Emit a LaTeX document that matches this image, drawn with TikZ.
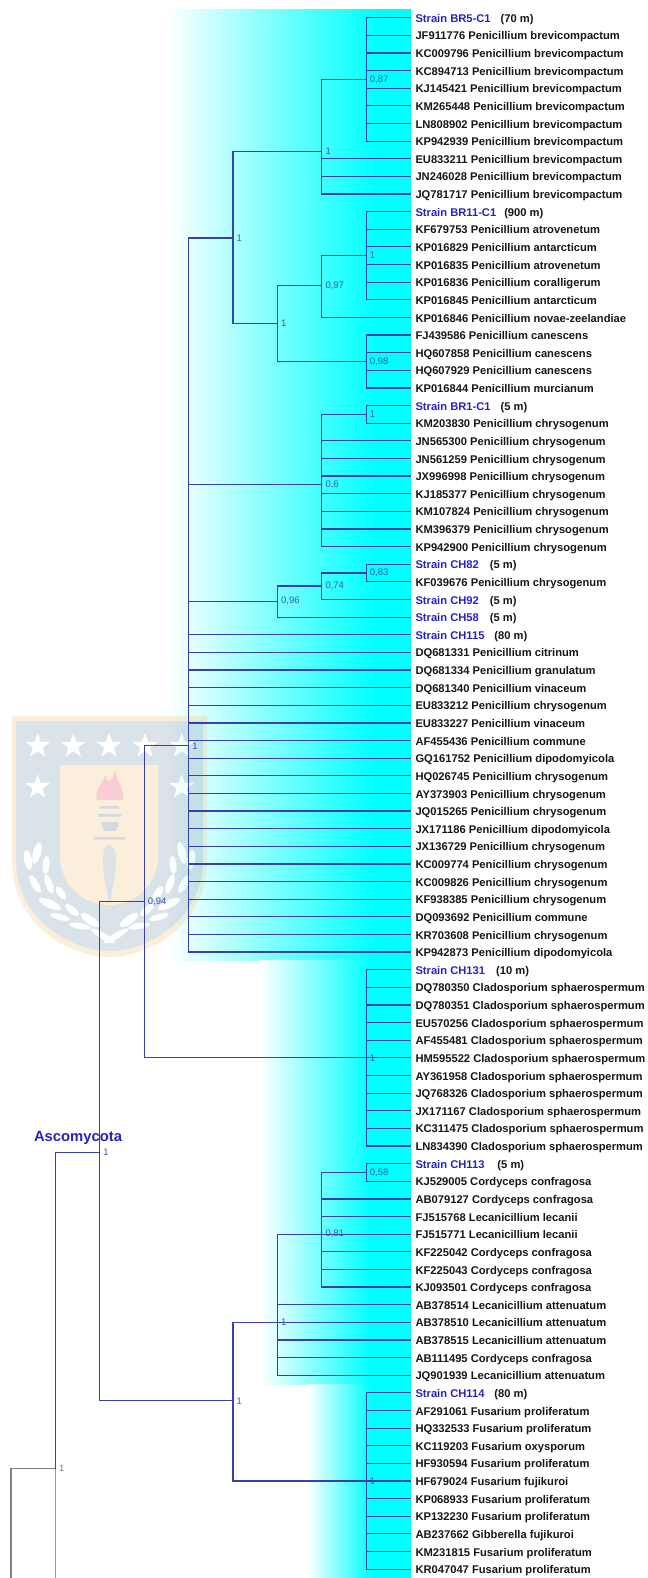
\documentclass[tikz,border=0pt]{standalone}
\usepackage{fontspec}
\setmainfont{Liberation Sans}
\usepackage{tikz}
\usetikzlibrary{shapes.geometric}
\definecolor{trblue}{HTML}{3A3FAE}
\definecolor{trsup}{HTML}{3A58B0}
\definecolor{trname}{HTML}{2A22C0}
\definecolor{trink}{HTML}{161616}
\definecolor{trgrey}{HTML}{808080}
\definecolor{trpink}{HTML}{E0709A}
\definecolor{trcyan}{HTML}{00FFFF}
\definecolor{crgrey}{HTML}{849EB9}
\definecolor{crgold}{HTML}{F2CA8A}
\definecolor{crflame}{HTML}{E8586F}
\definecolor{crtorch}{HTML}{6E8096}
\newcommand{\strainlab}[3]{\textcolor{trname}{#1}\hspace{#2}#3}
\tikzset{
  brn/.style={draw=trblue,line width=1.2pt,line join=miter},
  brngrey/.style={draw=trgrey,line width=1.2pt},
  brnpink/.style={draw=trpink,line width=1.2pt},
  leaf/.style={anchor=west,inner xsep=4.7pt,inner ysep=0pt,text height=11pt,text depth=1.8pt,
               font=\fontsize{11.18}{13}\selectfont\bfseries,text=trink},
  supv/.style={font=\fontsize{9.5}{11}\selectfont,text=trsup,inner sep=0pt,label distance=3.5pt},
  crstar/.style={star,star points=5,star point ratio=2.5,fill=white,minimum size=26pt,inner sep=0pt},
  lfw/.style={fill=white},
}
\begin{document}
\begin{tikzpicture}[x=44.4pt,y=-17.63pt]
  \useasboundingbox (-0.2477,-1.004) rectangle (14.347,88.503);
  % panels
  \shade[left color=white,right color=trcyan] (3.54,-0.49) rectangle (8.2,53.45);
  \fill[trcyan] (8.2,-0.49) rectangle (9,53.45);
  \shade[left color=white,right color=trcyan] (5.61,53.45) rectangle (8.1,77.5);
  \fill[trcyan] (8.1,53.45) rectangle (9,77.5);
  \shade[left color=white,right color=trcyan] (6.67,77.5) rectangle (8.1,88.503);
  \fill[trcyan] (8.1,77.5) rectangle (9,88.503);
  % crest, in picture pixels
  \begin{scope}[shift={(-0.2477,-1.004)},x=1pt,y=-1pt,transparency group,opacity=0.3]
    \fill[crgold] (12,716) -- (207,716) -- (207,860) .. controls (207,925) and (150,957) .. (109.5,957)
      .. controls (69,957) and (12,925) .. (12,860) -- cycle;
    \fill[crgrey] (16,721) -- (203,721) -- (203,860) .. controls (203,920) and (147,951) .. (109.5,951)
      .. controls (72,951) and (16,920) .. (16,860) -- cycle;
    \fill[crgold] (60,765) -- (158,765) -- (158,855) .. controls (158,885) and (135,905) .. (109,905)
      .. controls (83,905) and (60,885) .. (60,855) -- cycle;
    \node[crstar] (st1) at (37.7,746) {};
    \node[crstar] (st2) at (73.3,746) {};
    \node[crstar] (st3) at (109,746) {};
    \node[crstar] (st4) at (145,746) {};
    \node[crstar] (st5) at (181.7,746) {};
    \node[crstar] (st6) at (37.7,787) {};
    \node[crstar] (st7) at (181.7,787) {};
    \fill[crflame] (97,800) .. controls (94,790) and (102,785) .. (106,774) .. controls (106,784) and (110,784) .. (116,771)
      .. controls (115,780) and (124,785) .. (123,800) -- cycle;
    \fill[crtorch] (100,806) rectangle (119,808.5);
    \fill[crtorch] (98,814) rectangle (121,816.5);
    \fill[crtorch] (101,822) -- (119,822) -- (116,831) -- (104,831) -- cycle;
    \fill[crtorch] (94,837) rectangle (125,839.5);
    \fill[crgrey] (103,860) .. controls (103,850) and (106,845) .. (109.5,845) .. controls (113,845) and (116,850) .. (116,860)
      .. controls (116,875) and (112,890) .. (110,903) -- (109,903) .. controls (107,890) and (103,875) .. (103,860) -- cycle;
    \fill[lfw,rotate around={75:(37,853)}] (37,853) ellipse (11pt and 4pt);
    \fill[lfw,rotate around={100:(28,860)}] (28,860) ellipse (10pt and 4pt);
    \fill[lfw,rotate around={85:(46,865)}] (46,865) ellipse (9pt and 3.5pt);
    \fill[lfw,rotate around={-60:(35,884)}] (35,884) ellipse (10pt and 3.5pt);
    \fill[lfw,rotate around={-70:(49,884)}] (49,884) ellipse (10pt and 3.5pt);
    \fill[lfw,rotate around={-55:(61,893)}] (61,893) ellipse (7.5pt and 3.5pt);
    \fill[lfw,rotate around={-25:(50,904)}] (50,904) ellipse (12pt and 4pt);
    \fill[lfw,rotate around={-40:(72,910)}] (72,910) ellipse (8.5pt and 3.5pt);
    \fill[lfw,rotate around={-15:(60,917)}] (60,917) ellipse (10pt and 3pt);
    \fill[lfw,rotate around={-35:(90,920)}] (90,920) ellipse (11pt and 4pt);
    \fill[lfw,rotate around={-10:(80,926)}] (80,926) ellipse (11pt and 3pt);
    \fill[lfw,rotate around={-30:(103,936)}] (103,936) ellipse (14pt and 3pt);
    \fill[lfw,rotate around={105:(182,853)}] (182,853) ellipse (11pt and 4pt);
    \fill[lfw,rotate around={80:(191,860)}] (191,860) ellipse (10pt and 4pt);
    \fill[lfw,rotate around={95:(173,865)}] (173,865) ellipse (9pt and 3.5pt);
    \fill[lfw,rotate around={60:(184,884)}] (184,884) ellipse (10pt and 3.5pt);
    \fill[lfw,rotate around={70:(170,884)}] (170,884) ellipse (10pt and 3.5pt);
    \fill[lfw,rotate around={55:(158,893)}] (158,893) ellipse (7.5pt and 3.5pt);
    \fill[lfw,rotate around={25:(169,904)}] (169,904) ellipse (12pt and 4pt);
    \fill[lfw,rotate around={40:(147,910)}] (147,910) ellipse (8.5pt and 3.5pt);
    \fill[lfw,rotate around={15:(159,917)}] (159,917) ellipse (10pt and 3pt);
    \fill[lfw,rotate around={35:(129,920)}] (129,920) ellipse (11pt and 4pt);
    \fill[lfw,rotate around={10:(139,926)}] (139,926) ellipse (11pt and 3pt);
    \fill[lfw,rotate around={30:(116,936)}] (116,936) ellipse (14pt and 3pt);
  \end{scope}
  % leaves
  \node[leaf] (sbr5) at (9,0) {\strainlab{Strain BR5-C1}{10pt}{(70 m)}};
  \node[leaf] (jf911776) at (9,1) {JF911776 Penicillium brevicompactum};
  \node[leaf] (kc009796) at (9,2) {KC009796 Penicillium brevicompactum};
  \node[leaf] (kc894713) at (9,3) {KC894713 Penicillium brevicompactum};
  \node[leaf] (kj145421) at (9,4) {KJ145421 Penicillium brevicompactum};
  \node[leaf] (km265448) at (9,5) {KM265448 Penicillium brevicompactum};
  \node[leaf] (ln808902) at (9,6) {LN808902 Penicillium brevicompactum};
  \node[leaf] (kp942939) at (9,7) {KP942939 Penicillium brevicompactum};
  \node[leaf] (eu833211) at (9,8) {EU833211 Penicillium brevicompactum};
  \node[leaf] (jn246028) at (9,9) {JN246028 Penicillium brevicompactum};
  \node[leaf] (jq781717) at (9,10) {JQ781717 Penicillium brevicompactum};
  \node[leaf] (sbr11) at (9,11) {\strainlab{Strain BR11-C1}{8pt}{(900 m)}};
  \node[leaf] (kf679753) at (9,12) {KF679753 Penicillium atrovenetum};
  \node[leaf] (kp016829) at (9,13) {KP016829 Penicillium antarcticum};
  \node[leaf] (kp016835) at (9,14) {KP016835 Penicillium atrovenetum};
  \node[leaf] (kp016836) at (9,15) {KP016836 Penicillium coralligerum};
  \node[leaf] (kp016845) at (9,16) {KP016845 Penicillium antarcticum};
  \node[leaf] (kp016846) at (9,17) {KP016846 Penicillium novae-zeelandiae};
  \node[leaf] (fj439586) at (9,18) {FJ439586 Penicillium canescens};
  \node[leaf] (hq607858) at (9,19) {HQ607858 Penicillium canescens};
  \node[leaf] (hq607929) at (9,20) {HQ607929 Penicillium canescens};
  \node[leaf] (kp016844) at (9,21) {KP016844 Penicillium murcianum};
  \node[leaf] (sbr1) at (9,22) {\strainlab{Strain BR1-C1}{10pt}{(5 m)}};
  \node[leaf] (km203830) at (9,23) {KM203830 Penicillium chrysogenum};
  \node[leaf] (jn565300) at (9,24) {JN565300 Penicillium chrysogenum};
  \node[leaf] (jn561259) at (9,25) {JN561259 Penicillium chrysogenum};
  \node[leaf] (jx996998) at (9,26) {JX996998 Penicillium chrysogenum};
  \node[leaf] (kj185377) at (9,27) {KJ185377 Penicillium chrysogenum};
  \node[leaf] (km107824) at (9,28) {KM107824 Penicillium chrysogenum};
  \node[leaf] (km396379) at (9,29) {KM396379 Penicillium chrysogenum};
  \node[leaf] (kp942900) at (9,30) {KP942900 Penicillium chrysogenum};
  \node[leaf] (sch82) at (9,31) {\strainlab{Strain CH82}{11pt}{(5 m)}};
  \node[leaf] (kf039676) at (9,32) {KF039676 Penicillium chrysogenum};
  \node[leaf] (sch92) at (9,33) {\strainlab{Strain CH92}{11pt}{(5 m)}};
  \node[leaf] (sch58) at (9,34) {\strainlab{Strain CH58}{11pt}{(5 m)}};
  \node[leaf] (sch115) at (9,35) {\strainlab{Strain CH115}{10pt}{(80 m)}};
  \node[leaf] (dq681331) at (9,36) {DQ681331 Penicillium citrinum};
  \node[leaf] (dq681334) at (9,37) {DQ681334 Penicillium granulatum};
  \node[leaf] (dq681340) at (9,38) {DQ681340 Penicillium vinaceum};
  \node[leaf] (eu833212) at (9,39) {EU833212 Penicillium chrysogenum};
  \node[leaf] (eu833227) at (9,40) {EU833227 Penicillium vinaceum};
  \node[leaf] (af455436) at (9,41) {AF455436 Penicillium commune};
  \node[leaf] (gq161752) at (9,42) {GQ161752 Penicillium dipodomyicola};
  \node[leaf] (hq026745) at (9,43) {HQ026745 Penicillium chrysogenum};
  \node[leaf] (ay373903) at (9,44) {AY373903 Penicillium chrysogenum};
  \node[leaf] (jq015265) at (9,45) {JQ015265 Penicillium chrysogenum};
  \node[leaf] (jx171186) at (9,46) {JX171186 Penicillium dipodomyicola};
  \node[leaf] (jx136729) at (9,47) {JX136729 Penicillium chrysogenum};
  \node[leaf] (kc009774) at (9,48) {KC009774 Penicillium chrysogenum};
  \node[leaf] (kc009826) at (9,49) {KC009826 Penicillium chrysogenum};
  \node[leaf] (kf938385) at (9,50) {KF938385 Penicillium chrysogenum};
  \node[leaf] (dq093692) at (9,51) {DQ093692 Penicillium commune};
  \node[leaf] (kr703608) at (9,52) {KR703608 Penicillium chrysogenum};
  \node[leaf] (kp942873) at (9,53) {KP942873 Penicillium dipodomyicola};
  \node[leaf] (sch131) at (9,54) {\strainlab{Strain CH131}{11pt}{(10 m)}};
  \node[leaf] (dq780350) at (9,55) {DQ780350 Cladosporium sphaerospermum};
  \node[leaf] (dq780351) at (9,56) {DQ780351 Cladosporium sphaerospermum};
  \node[leaf] (eu570256) at (9,57) {EU570256 Cladosporium sphaerospermum};
  \node[leaf] (af455481) at (9,58) {AF455481 Cladosporium sphaerospermum};
  \node[leaf] (hm595522) at (9,59) {HM595522 Cladosporium sphaerospermum};
  \node[leaf] (ay361958) at (9,60) {AY361958 Cladosporium sphaerospermum};
  \node[leaf] (jq768326) at (9,61) {JQ768326 Cladosporium sphaerospermum};
  \node[leaf] (jx171167) at (9,62) {JX171167 Cladosporium sphaerospermum};
  \node[leaf] (kc311475) at (9,63) {KC311475 Cladosporium sphaerospermum};
  \node[leaf] (ln834390) at (9,64) {LN834390 Cladosporium sphaerospermum};
  \node[leaf] (sch113) at (9,65) {\strainlab{Strain CH113}{13pt}{(5 m)}};
  \node[leaf] (kj529005) at (9,66) {KJ529005 Cordyceps confragosa};
  \node[leaf] (ab079127) at (9,67) {AB079127 Cordyceps confragosa};
  \node[leaf] (fj515768) at (9,68) {FJ515768 Lecanicillium lecanii};
  \node[leaf] (fj515771) at (9,69) {FJ515771 Lecanicillium lecanii};
  \node[leaf] (kf225042) at (9,70) {KF225042 Cordyceps confragosa};
  \node[leaf] (kf225043) at (9,71) {KF225043 Cordyceps confragosa};
  \node[leaf] (kj093501) at (9,72) {KJ093501 Cordyceps confragosa};
  \node[leaf] (ab378514) at (9,73) {AB378514 Lecanicillium attenuatum};
  \node[leaf] (ab378510) at (9,74) {AB378510 Lecanicillium attenuatum};
  \node[leaf] (ab378515) at (9,75) {AB378515 Lecanicillium attenuatum};
  \node[leaf] (ab111495) at (9,76) {AB111495 Cordyceps confragosa};
  \node[leaf] (jq901939) at (9,77) {JQ901939 Lecanicillium attenuatum};
  \node[leaf] (sch114) at (9,78) {\strainlab{Strain CH114}{10pt}{(80 m)}};
  \node[leaf] (af291061) at (9,79) {AF291061 Fusarium proliferatum};
  \node[leaf] (hq332533) at (9,80) {HQ332533 Fusarium proliferatum};
  \node[leaf] (kc119203) at (9,81) {KC119203 Fusarium oxysporum};
  \node[leaf] (hf930594) at (9,82) {HF930594 Fusarium proliferatum};
  \node[leaf] (hf679024) at (9,83) {HF679024 Fusarium fujikuroi};
  \node[leaf] (kp068933) at (9,84) {KP068933 Fusarium proliferatum};
  \node[leaf] (kp132230) at (9,85) {KP132230 Fusarium proliferatum};
  \node[leaf] (ab237662) at (9,86) {AB237662 Gibberella fujikuroi};
  \node[leaf] (km231815) at (9,87) {KM231815 Fusarium proliferatum};
  \node[leaf] (kr047047) at (9,88) {KR047047 Fusarium proliferatum};
  % junctions
  \coordinate (jroot) at (0,88.503);
  \coordinate (jpink) at (1,88.503);
  \coordinate[label={[supv,text=trgrey]right:1}] (jfung) at (1,82.3);
  \coordinate[label={[supv]right:1}] (jasco) at (2,64.35);
  \coordinate[label={[supv]right:0,94}] (jc94) at (3,50.14);
  \coordinate[label={[supv]right:1}] (jpeni) at (4,41.3);
  \coordinate[label={[supv]right:1}] (jtop) at (5,12.5);
  \coordinate[label={[supv]right:1}] (jbrev) at (7,7.6);
  \coordinate[label={[supv]right:0,87}] (jbr5) at (8,3.5);
  \coordinate[label={[supv]right:1}] (jmid) at (6,17.33);
  \coordinate[label={[supv]right:0,97}] (jc97) at (7,15.2);
  \coordinate[label={[supv]right:1}] (jbr11) at (8,13.5);
  \coordinate[label={[supv]right:0,98}] (jc98) at (8,19.5);
  \coordinate[label={[supv]right:0,6}] (jc06) at (7,26.47);
  \coordinate[label={[supv]right:1}] (jbr1) at (8,22.5);
  \coordinate[label={[supv]right:0,96}] (jc96) at (6,33.1);
  \coordinate[label={[supv]right:0,74}] (jc74) at (7,32.23);
  \coordinate[label={[supv]right:0,83}] (jc83) at (8,31.5);
  \coordinate[label={[supv]right:1}] (jclad) at (8,59);
  \coordinate[label={[supv]right:1}] (jhypo) at (5,78.45);
  \coordinate[label={[supv]right:1}] (jcord) at (6,74);
  \coordinate[label={[supv]right:0,81}] (jc81) at (7,69);
  \coordinate[label={[supv]right:0,58}] (jc58) at (8,65.5);
  \coordinate[label={[supv]right:1}] (jfusa) at (8,83);
  % branches
  \draw[brngrey] (jroot) |- (jfung);
  \draw[brnpink] (jfung) -- (jpink);
  \draw[brn] (jfung) |- (jasco);
  \draw[brn] (jasco) |- (jc94) (jasco) |- (jhypo);
  \draw[brn] (jc94) |- (jpeni) (jc94) |- (jclad);
  \draw[brn] (jpeni) |- (jtop) (jpeni) |- (jc06) (jpeni) |- (jc96);
  \draw[brn] (jpeni) |- (sch115) (jpeni) |- (dq681331) (jpeni) |- (dq681334) (jpeni) |- (dq681340);
  \draw[brn] (jpeni) |- (eu833212) (jpeni) |- (eu833227) (jpeni) |- (af455436) (jpeni) |- (gq161752);
  \draw[brn] (jpeni) |- (hq026745) (jpeni) |- (ay373903) (jpeni) |- (jq015265) (jpeni) |- (jx171186);
  \draw[brn] (jpeni) |- (jx136729) (jpeni) |- (kc009774) (jpeni) |- (kc009826) (jpeni) |- (kf938385);
  \draw[brn] (jpeni) |- (dq093692) (jpeni) |- (kr703608) (jpeni) |- (kp942873);
  \draw[brn] (jtop) |- (jbrev) (jtop) |- (jmid);
  \draw[brn] (jbrev) |- (jbr5) (jbrev) |- (eu833211) (jbrev) |- (jn246028) (jbrev) |- (jq781717);
  \draw[brn] (jbr5) |- (sbr5) (jbr5) |- (jf911776) (jbr5) |- (kc009796) (jbr5) |- (kc894713);
  \draw[brn] (jbr5) |- (kj145421) (jbr5) |- (km265448) (jbr5) |- (ln808902) (jbr5) |- (kp942939);
  \draw[brn] (jmid) |- (jc97) (jmid) |- (jc98);
  \draw[brn] (jc97) |- (jbr11) (jc97) |- (kp016846);
  \draw[brn] (jbr11) |- (sbr11) (jbr11) |- (kf679753) (jbr11) |- (kp016829);
  \draw[brn] (jbr11) |- (kp016835) (jbr11) |- (kp016836) (jbr11) |- (kp016845);
  \draw[brn] (jc98) |- (fj439586) (jc98) |- (hq607858) (jc98) |- (hq607929) (jc98) |- (kp016844);
  \draw[brn] (jc06) |- (jbr1) (jc06) |- (jn565300) (jc06) |- (jn561259) (jc06) |- (jx996998);
  \draw[brn] (jc06) |- (kj185377) (jc06) |- (km107824) (jc06) |- (km396379) (jc06) |- (kp942900);
  \draw[brn] (jbr1) |- (sbr1) (jbr1) |- (km203830);
  \draw[brn] (jc96) |- (jc74) (jc96) |- (sch58);
  \draw[brn] (jc74) |- (jc83) (jc74) |- (sch92);
  \draw[brn] (jc83) |- (sch82) (jc83) |- (kf039676);
  \draw[brn] (jclad) |- (sch131) (jclad) |- (dq780350) (jclad) |- (dq780351) (jclad) |- (eu570256);
  \draw[brn] (jclad) |- (af455481) (jclad) |- (hm595522) (jclad) |- (ay361958) (jclad) |- (jq768326);
  \draw[brn] (jclad) |- (jx171167) (jclad) |- (kc311475) (jclad) |- (ln834390);
  \draw[brn] (jhypo) |- (jcord) (jhypo) |- (jfusa);
  \draw[brn] (jcord) |- (jc81) (jcord) |- (ab378514) (jcord) |- (ab378510);
  \draw[brn] (jcord) |- (ab378515) (jcord) |- (ab111495) (jcord) |- (jq901939);
  \draw[brn] (jc81) |- (jc58) (jc81) |- (ab079127) (jc81) |- (fj515768) (jc81) |- (fj515771);
  \draw[brn] (jc81) |- (kf225042) (jc81) |- (kf225043) (jc81) |- (kj093501);
  \draw[brn] (jc58) |- (sch113) (jc58) |- (kj529005);
  \draw[brn] (jfusa) |- (sch114) (jfusa) |- (af291061) (jfusa) |- (hq332533) (jfusa) |- (kc119203);
  \draw[brn] (jfusa) |- (hf930594) (jfusa) |- (hf679024) (jfusa) |- (kp068933) (jfusa) |- (kp132230);
  \draw[brn] (jfusa) |- (ab237662) (jfusa) |- (km231815) (jfusa) |- (kr047047);
  \node[font=\fontsize{14.8}{17}\selectfont\bfseries,text=trname,inner sep=0pt] (ascomy) at (1.51,63.55) {Ascomycota};
\end{tikzpicture}
\end{document}
